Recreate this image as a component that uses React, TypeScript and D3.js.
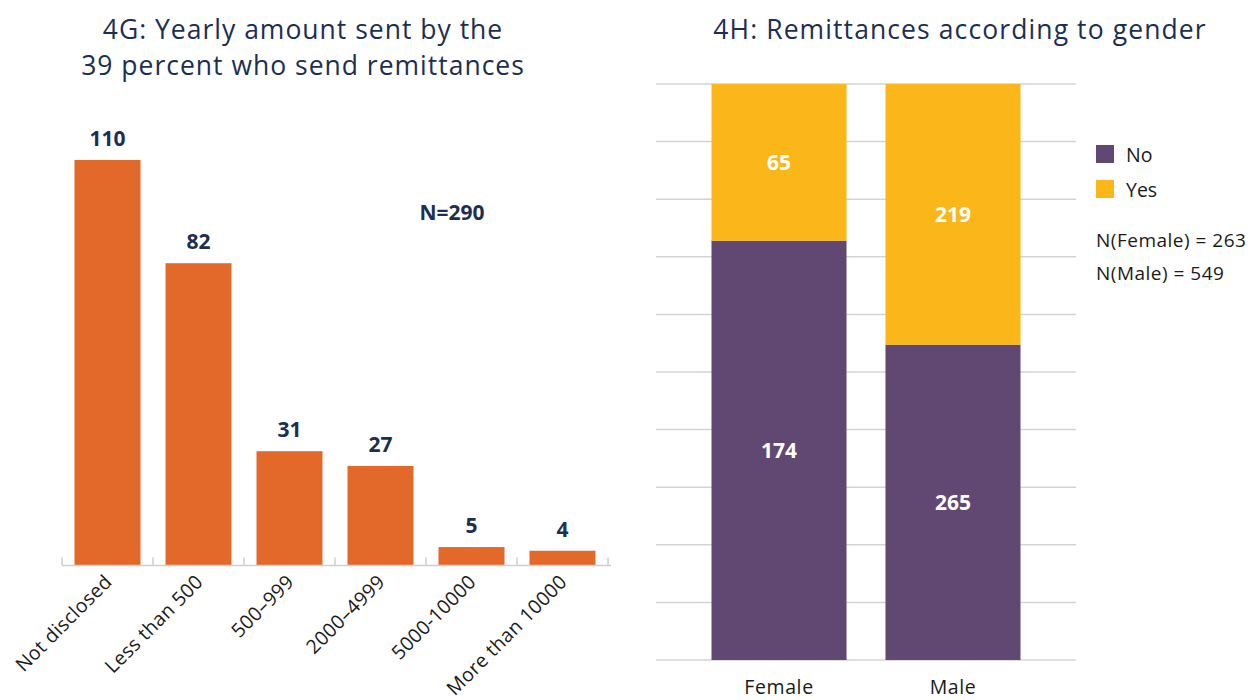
import React, { useEffect, useRef } from "react";
import * as d3 from "d3";

// 4G data
const amountCategories = ["Not disclosed", "Less than 500", "500–999", "2000–4999", "5000-10000", "More than 10000"];
const amountValues = [110, 82, 31, 27, 5, 4];

// 4H data
const genders = ["Female", "Male"];
const noValues = [174, 265];
const yesValues = [65, 219];
const seriesNames = ["No", "Yes"];
const nLabels = ["N(Female) = 263", "N(Male) = 549"];

const FONT = "'Open Sans', Lato, sans-serif";
const NAVY = "#1c2f52";
const ORANGE = "#e2692a";
const PURPLE = "#614873";
const YELLOW = "#fbb619";
const TEXT = "#1a1a1a";

const App = () => {
  const ref = useRef<SVGSVGElement>(null);

  useEffect(() => {
    const svg = d3.select(ref.current);
    svg.selectAll("*").remove();

    // ---------- Left chart (4G) ----------
    const left = svg.append("g");
    left.append("text")
      .attr("x", 303).attr("y", 39)
      .attr("text-anchor", "middle")
      .attr("font-size", 26.5).attr("letter-spacing", 1).attr("fill", NAVY)
      .text("4G: Yearly amount sent by the");
    left.append("text")
      .attr("x", 303).attr("y", 75)
      .attr("text-anchor", "middle")
      .attr("font-size", 26.5).attr("letter-spacing", 1).attr("fill", NAVY)
      .text("39 percent who send remittances");

    const baseY = 565.5;
    const x = d3.scaleBand<string>()
      .domain(amountCategories)
      .range([62, 608])
      .paddingInner(0.275)
      .paddingOuter(0.1375);
    const y = d3.scaleLinear().domain([0, 110]).range([baseY, 160]);

    left.selectAll(".bar")
      .data(amountValues)
      .enter().append("rect")
      .attr("x", (d, i) => x(amountCategories[i])!)
      .attr("y", d => y(d))
      .attr("width", x.bandwidth())
      .attr("height", d => baseY - y(d))
      .attr("fill", ORANGE);

    // axis line with ticks at band boundaries
    left.append("line")
      .attr("x1", 62).attr("x2", 611)
      .attr("y1", baseY).attr("y2", baseY)
      .attr("stroke", "#cfcfcf").attr("stroke-width", 1.5);
    const half = (x.step() * x.paddingInner()) / 2;
    const tickXs = amountCategories.map(c => x(c)! - half).concat([x(amountCategories[amountCategories.length - 1])! + x.bandwidth() + half]);
    left.selectAll(".tick")
      .data(tickXs)
      .enter().append("line")
      .attr("x1", d => d).attr("x2", d => d)
      .attr("y1", baseY - 8).attr("y2", baseY)
      .attr("stroke", "#cfcfcf").attr("stroke-width", 1.5);

    left.selectAll(".val")
      .data(amountValues)
      .enter().append("text")
      .attr("x", (d, i) => x(amountCategories[i])! + x.bandwidth() / 2)
      .attr("y", d => y(d) - 14)
      .attr("text-anchor", "middle")
      .attr("font-size", 21).attr("font-weight", "bold").attr("fill", NAVY)
      .text(d => d);

    left.selectAll(".xl")
      .data(amountCategories)
      .enter().append("text")
      .attr("transform", d => `translate(${x(d)! + x.bandwidth() / 2 + 2},${baseY + 14}) rotate(-45)`)
      .attr("text-anchor", "end")
      .attr("dominant-baseline", "middle")
      .attr("font-size", 19.5).attr("letter-spacing", 0.3).attr("fill", TEXT)
      .text(d => d);

    left.append("text")
      .attr("x", 452).attr("y", 220)
      .attr("text-anchor", "middle")
      .attr("font-size", 21).attr("font-weight", "bold").attr("fill", NAVY)
      .text("N=290");

    // ---------- Right chart (4H) ----------
    const right = svg.append("g");
    right.append("text")
      .attr("x", 960).attr("y", 39)
      .attr("text-anchor", "middle")
      .attr("font-size", 26.5).attr("letter-spacing", 1.1).attr("fill", NAVY)
      .text("4H: Remittances according to gender");

    const gx = d3.scaleBand<string>()
      .domain(genders)
      .range([656, 1076])
      .paddingInner(0.224)
      .paddingOuter(0.319);
    const gy = d3.scaleLinear().domain([0, 1]).range([660, 84]);

    right.selectAll(".grid")
      .data(gy.ticks(10))
      .enter().append("line")
      .attr("x1", 656).attr("x2", 1076)
      .attr("y1", d => gy(d)).attr("y2", d => gy(d))
      .attr("stroke", "#d4d4d4").attr("stroke-width", 1.5);

    const rows = genders.map((g, i) => {
      const total = noValues[i] + yesValues[i];
      return { gender: g, No: noValues[i] / total, Yes: yesValues[i] / total, rawNo: noValues[i], rawYes: yesValues[i] };
    });
    const stacked = d3.stack<any>().keys(seriesNames)(rows);
    const colors = d3.scaleOrdinal<string>().domain(seriesNames).range([PURPLE, YELLOW]);

    stacked.forEach(layer => {
      const g = right.append("g");
      g.selectAll("rect")
        .data(layer)
        .enter().append("rect")
        .attr("x", d => gx(d.data.gender)!)
        .attr("y", d => gy(d[1]))
        .attr("width", gx.bandwidth())
        .attr("height", d => gy(d[0]) - gy(d[1]))
        .attr("fill", colors(layer.key));
      g.selectAll("text")
        .data(layer)
        .enter().append("text")
        .attr("x", d => gx(d.data.gender)! + gx.bandwidth() / 2)
        .attr("y", d => (gy(d[0]) + gy(d[1])) / 2)
        .attr("text-anchor", "middle")
        .attr("dominant-baseline", "central")
        .attr("font-size", 21).attr("font-weight", "bold").attr("fill", "#fff")
        .text(d => (layer.key === "No" ? d.data.rawNo : d.data.rawYes));
    });

    right.selectAll(".gl")
      .data(genders)
      .enter().append("text")
      .attr("x", d => gx(d)! + gx.bandwidth() / 2)
      .attr("y", 694)
      .attr("text-anchor", "middle")
      .attr("font-size", 19.5).attr("letter-spacing", 0.6).attr("fill", TEXT)
      .text(d => d);

    // legend
    const legend = right.selectAll(".lg")
      .data(seriesNames)
      .enter().append("g")
      .attr("transform", (d, i) => `translate(1096,${145 + i * 35})`);
    legend.append("rect")
      .attr("width", 18).attr("height", 18)
      .attr("fill", d => colors(d));
    legend.append("text")
      .attr("x", 30).attr("y", 9)
      .attr("dominant-baseline", "central")
      .attr("font-size", 19.5).attr("fill", TEXT)
      .text(d => d);

    right.selectAll(".nl")
      .data(nLabels)
      .enter().append("text")
      .attr("x", 1096)
      .attr("y", (d, i) => 247 + i * 33)
      .attr("font-size", 19).attr("letter-spacing", 0.5).attr("fill", TEXT)
      .text(d => d);
  }, []);

  return (
    <svg
      ref={ref}
      width={1256}
      height={700}
      style={{ position: "absolute", left: 0, top: 0, fontFamily: FONT, background: "#fff" }}
    />
  );
};

export default App;
